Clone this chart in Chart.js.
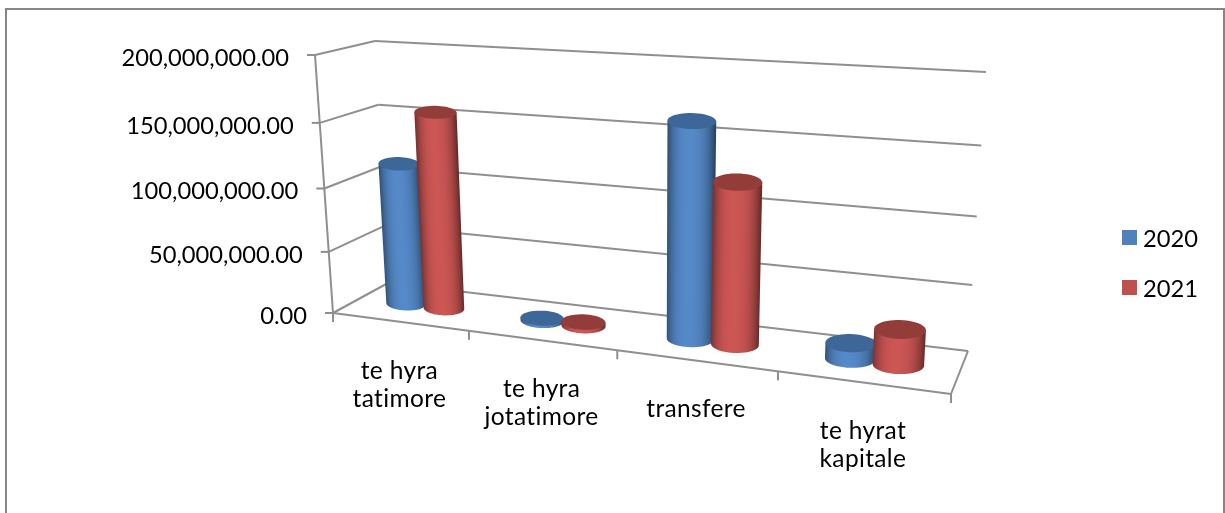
<!DOCTYPE html>
<html>
<head>
<meta charset="utf-8">
<script src="https://cdn.jsdelivr.net/npm/chart.js@4"></script>
<style>
  html, body { margin: 0; background: #fff; overflow: hidden; }
  #wrap { position: relative; width: 1225px; height: 513px; }
  #frame { position: absolute; left: 5px; top: 8px; right: 0; bottom: -5px; border: 2px solid #868686; }
  canvas { position: absolute; left: 0; top: 0; }
</style>
</head>
<body>
<div id="wrap">
  <div id="frame"></div>
  <canvas id="chart" width="1225" height="513"></canvas>
</div>
<script>
const categories = [['te hyra', 'tatimore'], ['te hyra', 'jotatimore'], ['transfere'], ['te hyrat', 'kapitale']];
const years = ['2020', '2021'];
const values2020 = [114000000, 2000000, 163000000, 12000000];
const values2021 = [156000000, 3000000, 122000000, 26500000];

const FONT = '23.7px Lato';
const CAT_FONT = '24.5px Lato';
const GRID = '#8f8f8f';

// box corners on screen, [x, y], f = front, b = back, l/r = left/right, 0/1 = floor/top
const box = {
  fl0: [333, 313], fr0: [951, 394], br0: [968, 351], bl0: [388, 283],
  fl1: [315, 55], fr1: [966, 97], br1: [986, 72], bl1: [375, 41]
};

const mix = (a, b, t) => [a[0] + (b[0] - a[0]) * t, a[1] + (b[1] - a[1]) * t];

// u along the categories, v up the value axis, w into the depth, all 0..1
function project(u, v, w) {
  const pu = u - 0.16 * u * (1 - u);
  const pv = v - 0.07 * v * (1 - v);
  const floor = mix(mix(box.fl0, box.fr0, pu), mix(box.bl0, box.br0, pu), w);
  const top = mix(mix(box.fl1, box.fr1, pu), mix(box.bl1, box.br1, pu), w);
  return mix(floor, top, pv);
}

function line(ctx, a, b) {
  ctx.beginPath();
  ctx.moveTo(a[0], a[1]);
  ctx.lineTo(b[0], b[1]);
  ctx.stroke();
}

function drawWalls(chart) {
  const ctx = chart.ctx;
  const y = chart.scales.y;
  const x = chart.scales.x;
  ctx.strokeStyle = GRID;
  ctx.lineWidth = 2;

  y.ticks.forEach((tick, i) => {
    const v = (y.bottom - y.getPixelForTick(i)) / (y.bottom - y.top);
    const front = project(0, v, 0);
    line(ctx, [front[0] - 8, front[1]], front);
    line(ctx, front, project(0, v, 1));
    line(ctx, project(0, v, 1), project(1, v, 1));

    ctx.fillStyle = '#000';
    ctx.font = FONT;
    ctx.textAlign = 'right';
    ctx.textBaseline = 'middle';
    ctx.fillText(tick.label, front[0] - 26, front[1] + 3);
  });
  line(ctx, project(0, 0, 0), project(0, 1, 0));

  // floor
  line(ctx, project(0, 0, 0), project(1, 0, 0));
  line(ctx, project(1, 0, 0), project(1, 0, 1));

  const step = (x.getPixelForTick(1) - x.getPixelForTick(0)) / 2;
  const edges = [x.left].concat(x.ticks.map((t, i) => x.getPixelForTick(i) + step));
  edges.forEach(px => {
    const p = project((px - x.left) / x.width, 0, 0);
    line(ctx, p, [p[0], p[1] + 9]);
  });

  ctx.letterSpacing = '0.35px';
  x.ticks.forEach((t, i) => {
    const p = project((x.getPixelForTick(i) - x.left) / x.width, 0, 0);
    ctx.fillStyle = '#000';
    ctx.font = CAT_FONT;
    ctx.textAlign = 'center';
    ctx.textBaseline = 'middle';
    categories[i].forEach((text, n) => ctx.fillText(text, p[0], p[1] + 49 + n * 28));
  });
  ctx.letterSpacing = '0px';
}

// nearly flat ellipse at height v, t from PI to 2 PI runs along the front edge
function ring(u, v, ru, rw, from, to, steps) {
  const c = project(u, v, 0.5);
  const e = project(u + ru, v, 0.5);
  const ry = Math.abs(project(u, v, 0.5 + rw)[1] - c[1]);
  const pts = [];
  for (let i = 0; i <= steps; i++) {
    const t = from + (to - from) * i / steps;
    pts.push([
      c[0] + (e[0] - c[0]) * Math.cos(t),
      c[1] + (e[1] - c[1]) * 0.25 * Math.cos(t) - ry * Math.sin(t)
    ]);
  }
  return pts;
}

function fillPoly(ctx, pts) {
  ctx.beginPath();
  pts.forEach((p, i) => i ? ctx.lineTo(p[0], p[1]) : ctx.moveTo(p[0], p[1]));
  ctx.closePath();
  ctx.fill();
}

function drawCylinder(chart, bar, look) {
  const ctx = chart.ctx;
  const x = chart.scales.x;
  const y = chart.scales.y;
  const u = (bar.x - x.left) / x.width;
  const ru = bar.width / 2 / x.width;
  const v = (y.bottom - bar.y) / (y.bottom - y.top);
  const rwTop = 0.22 + 0.15 * v;
  const n = 48;

  const low = ring(u, 0, ru, 0.22, Math.PI, Math.PI * 2, n);
  const high = ring(u, v, ru, rwTop, Math.PI, Math.PI * 2, n);

  // shade across the barrel, square to its lean
  const a = project(u, 0, 0.5);
  const b = project(u, v, 0.5);
  const len = Math.hypot(b[0] - a[0], b[1] - a[1]) || 1;
  const nx = (a[1] - b[1]) / len;
  const ny = (b[0] - a[0]) / len;
  const r = Math.abs(project(u + ru, 0, 0.5)[0] - a[0]);
  const sign = nx < 0 ? -1 : 1;
  const grad = ctx.createLinearGradient(
    a[0] - sign * nx * r, a[1] - sign * ny * r,
    a[0] + sign * nx * r, a[1] + sign * ny * r
  );
  for (let i = 0; i <= 12; i++) {
    const s = i / 6 - 1;
    const k = 1 - 0.4 * Math.pow(Math.abs(s), 3) - (s > 0 ? 0.1 * s : 0);
    grad.addColorStop(i / 12, `rgb(${look.body.map(c => Math.round(c * k)).join(',')})`);
  }
  ctx.fillStyle = grad;
  fillPoly(ctx, [high[0]].concat(low, [high[n]]));

  ctx.fillStyle = look.top;
  fillPoly(ctx, ring(u, v, ru, rwTop, 0, Math.PI * 2, n));
}

const looks = [
  { body: [85, 137, 200], top: '#3d6798' },
  { body: [204, 86, 84], top: '#933d3b' }
];

const cylinders = {
  id: 'cylinders',
  beforeDatasetsDraw(chart) {
    drawWalls(chart);
    categories.forEach((c, i) => {
      chart.data.datasets.forEach((ds, d) => {
        drawCylinder(chart, chart.getDatasetMeta(d).data[i], looks[d]);
      });
    });
    return false;
  },
  afterDraw(chart) {
    // legend
    const ctx = chart.ctx;
    chart.data.datasets.forEach((ds, d) => {
      const yy = 237 + d * 50;
      ctx.fillStyle = ds.backgroundColor;
      ctx.fillRect(1122, yy - 7, 15, 15);
      ctx.fillStyle = '#000';
      ctx.font = FONT;
      ctx.textAlign = 'left';
      ctx.textBaseline = 'middle';
      ctx.fillText(ds.label, 1143, yy + 2);
    });
  }
};

new Chart(document.getElementById('chart'), {
  type: 'bar',
  data: {
    labels: categories,
    datasets: [
      { label: years[0], data: values2020, backgroundColor: '#4f81bd' },
      { label: years[1], data: values2021, backgroundColor: '#c0504d' }
    ]
  },
  options: {
    responsive: false,
    animation: false,
    categoryPercentage: 0.575,
    barPercentage: 1.05,
    layout: { padding: { left: 333, right: 274, top: 55, bottom: 200 } },
    plugins: { legend: { display: false }, tooltip: { enabled: false } },
    scales: {
      x: { grid: { display: false }, border: { display: false }, ticks: { display: false } },
      y: {
        min: 0,
        max: 200000000,
        grid: { display: false },
        border: { display: false },
        ticks: {
          display: false,
          stepSize: 50000000,
          callback: value => value.toLocaleString('en-US', { minimumFractionDigits: 2, maximumFractionDigits: 2 })
        }
      }
    }
  },
  plugins: [cylinders]
});
</script>
</body>
</html>
